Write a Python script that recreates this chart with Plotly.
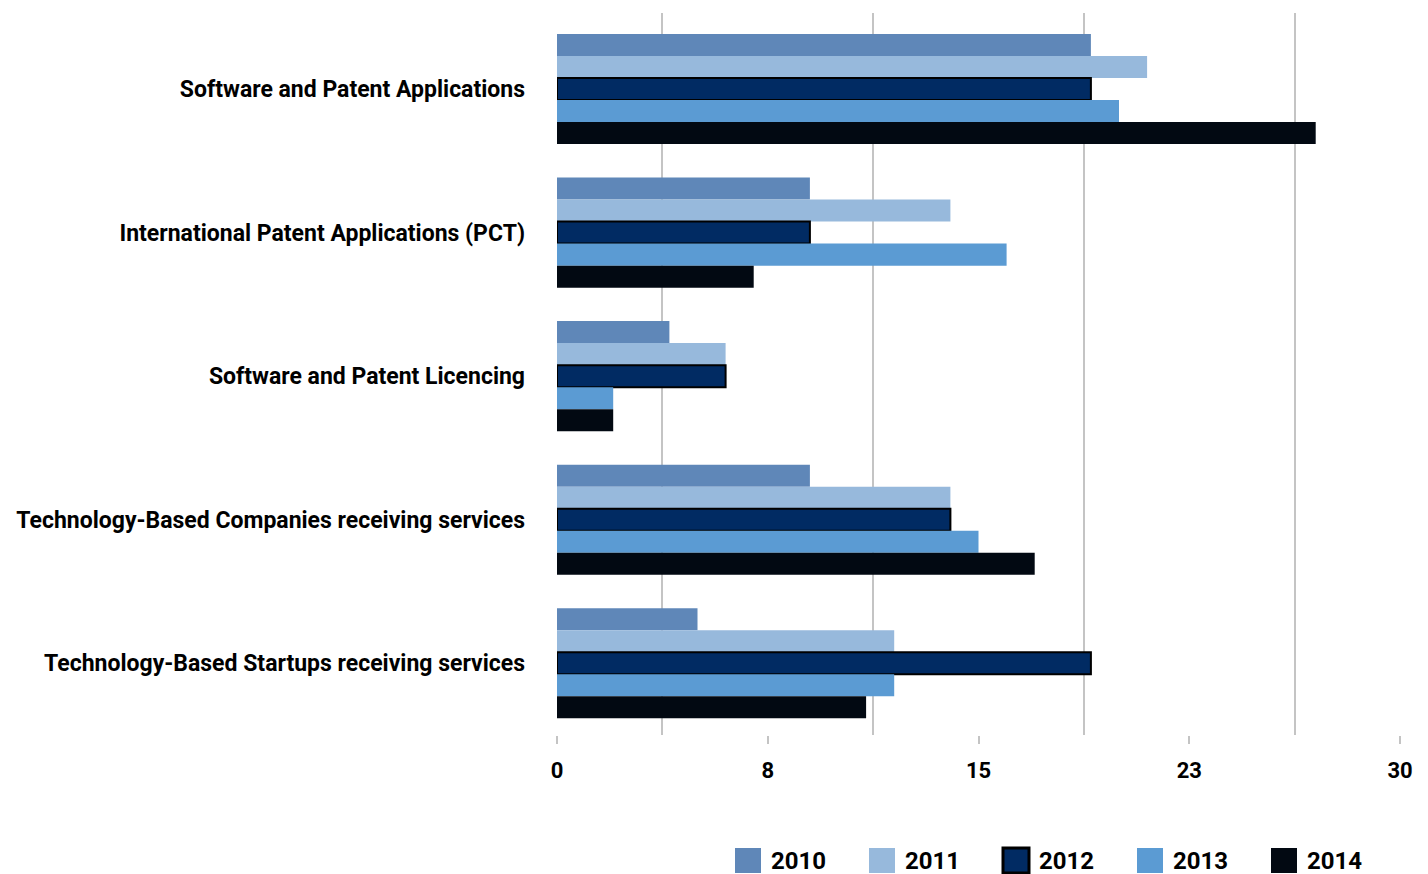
import plotly.graph_objects as go

categories = [
    "Software and Patent Applications",
    "International Patent Applications (PCT)",
    "Software and Patent Licencing",
    "Technology-Based Companies receiving services",
    "Technology-Based Startups receiving services",
]
years = ["2010", "2011", "2012", "2013", "2014"]
v2010 = [19, 9, 4, 9, 5]
v2011 = [21, 14, 6, 14, 12]
v2012 = [19, 9, 6, 14, 19]
v2013 = [20, 16, 2, 15, 12]
v2014 = [27, 7, 2, 17, 11]
series = [v2010, v2011, v2012, v2013, v2014]

colors = ["#5f87b8", "#97b9dc", "#012b63", "#5b9bd3", "#020912"]
outline = [None, None, "#000000", None, None]

tick_vals = [0, 7.5, 15, 22.5, 30]
tick_text = ["0", "8", "15", "23", "30"]
grid_vals = [3.75, 11.25, 18.75, 26.25]

FONT = "Roboto, Liberation Sans, sans-serif"

fig = go.Figure()
for yr, vals, col, oc in zip(years, series, colors, outline):
    fig.add_trace(go.Bar(
        y=categories, x=vals, name=yr, orientation="h",
        marker=dict(color=col, line=dict(color=oc or col, width=2 if oc else 0)),
        showlegend=False,
    ))

OFF = 8  # page body margin
W, H = 1420, 866
L, R, T, B = 549, 28, 5, 139
pw, ph = W - L - R, H - T - B


def px_to_paper_x(sx):
    return (sx - OFF - L) / pw


def px_to_paper_y(sy):
    return (T + ph - (sy - OFF)) / ph


# custom legend (layout decoration)
leg_x0 = 735
leg_step = 134
sw = 26
sy0, sy1 = 848, 873
shapes = []
annotations = []
for i, (yr, col, oc) in enumerate(zip(years, colors, outline)):
    sx0 = leg_x0 + i * leg_step
    shapes.append(dict(
        type="rect", xref="paper", yref="paper",
        x0=px_to_paper_x(sx0), x1=px_to_paper_x(sx0 + sw),
        y0=px_to_paper_y(sy1), y1=px_to_paper_y(sy0),
        fillcolor=col, line=dict(color=oc or col, width=3 if oc else 0),
    ))
    annotations.append(dict(
        xref="paper", yref="paper", x=px_to_paper_x(sx0 + sw + 8),
        y=px_to_paper_y((sy0 + sy1) / 2), xanchor="left", yanchor="middle",
        text="<b>%s</b>" % yr, showarrow=False,
        font=dict(family=FONT, size=24, color="#000000"),
    ))

fig.update_layout(
    width=W, height=H,
    margin=dict(l=L, r=R, t=T, b=B, autoexpand=False),
    barmode="group", bargap=0.233, bargroupgap=0,
    plot_bgcolor="white", paper_bgcolor="white",
    font=dict(family=FONT, size=23, color="#000000"),
    shapes=shapes, annotations=annotations,
    xaxis=dict(
        range=[0, 30], tickvals=tick_vals, ticktext=["<b>%s</b>" % t for t in tick_text],
        showgrid=False, zeroline=False, showline=False,
        ticks="outside", ticklen=8, tickwidth=2, tickcolor="#c4c4c4",
        ticklabelstandoff=8,
        minor=dict(tickvals=grid_vals, showgrid=True, gridcolor="#c4c4c4", gridwidth=1.5, ticks=""),
        tickfont=dict(family=FONT, size=22, color="#000000"),
        fixedrange=True,
    ),
    yaxis=dict(
        range=[4.5, -0.53], showgrid=False, zeroline=False, showline=False,
        tickvals=categories, ticktext=["<b>%s</b>" % c for c in categories],
        ticks="", ticklabelstandoff=31,
        tickfont=dict(family=FONT, size=23, color="#000000"),
        fixedrange=True,
    ),
)

fig.write_html("out.html")
